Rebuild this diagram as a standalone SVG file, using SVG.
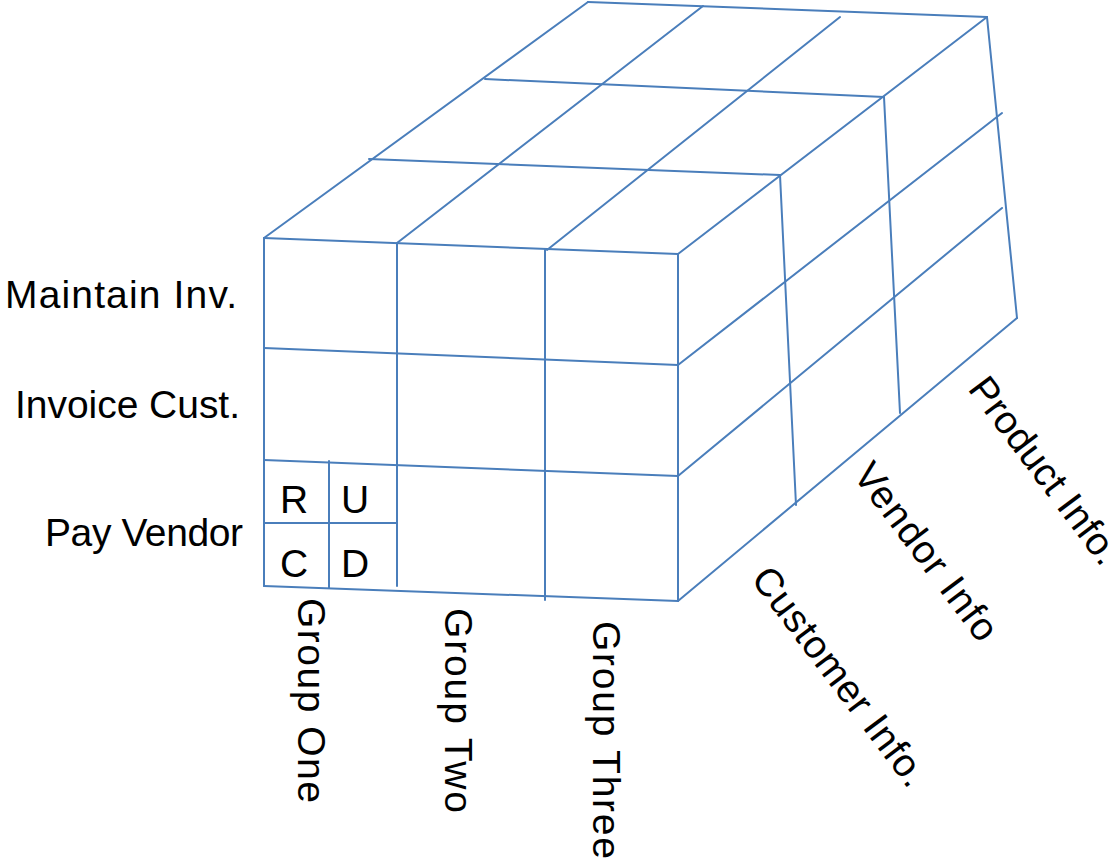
<svg xmlns="http://www.w3.org/2000/svg" width="1117" height="863" viewBox="0 0 1117 863">
  <style>
    .edge { stroke: #4a7ebb; stroke-width: 2; fill: none; stroke-linecap: round; }
    .label { font-family: "Liberation Sans", Arial, sans-serif; font-size: 39px; fill: #000; }
    .crud { text-anchor: middle; }
  </style>
  <rect width="1117" height="863" fill="#ffffff"/>

  <!-- Cube wireframe -->
  <g id="cube" class="edge">
    <!-- front face: rows and columns -->
    <g id="front-face">
      <line x1="264" y1="238" x2="678" y2="254"/>
      <line x1="264" y1="348" x2="678" y2="365"/>
      <line x1="264" y1="460" x2="678" y2="476"/>
      <line x1="264" y1="586" x2="678" y2="601"/>
      <line x1="264" y1="238" x2="264" y2="586"/>
      <line x1="397" y1="243" x2="397" y2="586"/>
      <line x1="545" y1="250" x2="545" y2="600"/>
      <line x1="678" y1="254" x2="678" y2="601"/>
    </g>
    <!-- top face -->
    <g id="top-face">
      <line x1="264" y1="238" x2="588" y2="2"/>
      <line x1="397" y1="243" x2="703" y2="6"/>
      <line x1="547" y1="250" x2="840" y2="17"/>
      <line x1="678" y1="254" x2="987" y2="17"/>
      <line x1="369" y1="159" x2="780" y2="175"/>
      <line x1="485" y1="79" x2="884" y2="97"/>
      <line x1="588" y1="2" x2="987" y2="17"/>
    </g>
    <!-- right face -->
    <g id="right-face">
      <line x1="987" y1="17" x2="1017" y2="318"/>
      <line x1="780" y1="175" x2="796" y2="505"/>
      <line x1="884" y1="97" x2="900" y2="413"/>
      <line x1="678" y1="365" x2="1002" y2="113"/>
      <line x1="678" y1="476" x2="1002" y2="208"/>
      <line x1="678" y1="601" x2="1017" y2="318"/>
    </g>
    <!-- CRUD sub-grid in the first cell -->
    <g id="crud-grid">
      <line x1="329" y1="461" x2="329" y2="588"/>
      <line x1="264" y1="523" x2="397" y2="523"/>
    </g>
  </g>

  <!-- CRUD letters -->
  <g id="crud-letters" class="label crud">
    <text x="294" y="513">R</text>
    <text x="355" y="513">U</text>
    <text x="294" y="577">C</text>
    <text x="355" y="577">D</text>
  </g>

  <!-- Process row labels -->
  <g id="row-labels" class="label">
    <text id="row-maintain" x="5" y="308" textLength="232" lengthAdjust="spacing">Maintain Inv.</text>
    <text id="row-invoice" x="15" y="418" textLength="225" lengthAdjust="spacing">Invoice Cust.</text>
    <text id="row-pay" x="45" y="546" textLength="198" lengthAdjust="spacing">Pay Vendor</text>
  </g>

  <!-- Group column labels -->
  <g id="column-labels" class="label">
    <text transform="translate(298 598) rotate(90)" textLength="205" lengthAdjust="spacing">Group One</text>
    <text transform="translate(445 608) rotate(90)" textLength="205" lengthAdjust="spacing">Group Two</text>
    <text transform="translate(593 621) rotate(90)" textLength="238" lengthAdjust="spacing">Group Three</text>
  </g>

  <!-- Data depth labels -->
  <g id="depth-labels" class="label">
    <text transform="translate(750 579) rotate(53)" textLength="264" lengthAdjust="spacing">Customer Info.</text>
    <text transform="translate(852 475) rotate(53)" textLength="212" lengthAdjust="spacing">Vendor Info</text>
    <text transform="translate(967 389) rotate(53)" textLength="224" lengthAdjust="spacing">Product Info.</text>
  </g>
</svg>
